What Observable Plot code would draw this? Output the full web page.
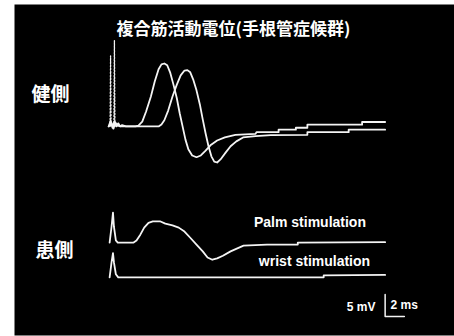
<!DOCTYPE html>
<html><head><meta charset="utf-8">
<script src="https://cdn.jsdelivr.net/npm/d3@7"></script>
<script src="https://cdn.jsdelivr.net/npm/@observablehq/plot@0.6"></script>
<style>body{margin:0;background:#fff;} #chart svg{display:block}</style>
</head><body><div id="chart"></div>
<script>
// ---- text ----
const title = "複合筋活動電位(手根管症候群)";
const sideLabels = ["健側", "患側"];
const traceLabels = ["Palm stimulation", "wrist stimulation"];
const scaleLabels = ["5 mV", "2 ms"];

// ---- baselines of each trace (mV) ----
const baselineHealthy = 43.2;
const baselinePalm = 16.8;
const baselineWrist = 8.9;

// ---- 健側: palm stimulation (time ms, amplitude mV relative to baseline) ----
const healthyPalmT = [-0.4,-0.2,0,0.2,0.4,0.6,0.8,1.0,1.4,2.4,2.7,3.1,3.5,4.0,4.4,4.8,5.1,5.4,5.7,6.0,6.35,6.7,7.0,7.3,7.6,7.9,8.3,8.75,9.2,9.7,10.2,10.9,11.7,12.8,14.9,15.0,17.3,17.3,19.1,19.1,20.3,20.3,26.0,26.0,28.4];
const healthyPalmV = [0,1.3,-0.3,1.1,0,0.7,0,0.3,0,0,0.2,1.1,3.4,6.8,10.2,13.0,14.1,14.3,13.9,12.3,9.5,6.4,3.0,0,-3.0,-5.2,-6.6,-7.0,-6.6,-5.5,-4.3,-3.2,-2.5,-1.9,-1.7,-1.3,-1.3,-0.75,-0.75,-0.3,-0.3,0.4,0.4,1.0,1.0];

// ---- 健側: wrist stimulation ----
const healthyWristT = [-0.4,-0.1,0.1,0.3,0.5,0.9,2.9,4.8,5.1,5.4,5.8,6.25,6.7,7.1,7.5,7.8,8.1,8.4,8.75,9.1,9.4,9.7,10.0,10.3,10.6,10.9,11.25,11.8,12.3,12.9,13.6,14.9,16.5,20.3,20.3,24.6,24.6,28.4];
const healthyWristV = [0,0.8,-0.5,0.9,0.2,0,0,0,0.45,1.4,3.6,6.8,9.5,11.6,12.7,12.8,12.3,10.7,8.2,5.0,1.6,-1.6,-4.5,-6.8,-8.0,-8.2,-7.5,-5.9,-4.5,-3.4,-2.5,-2.2,-2.0,-1.9,-1.3,-1.3,-0.75,-0.75];

// ---- 健側: stimulus artifact (dotted spikes) ----
const artifact1T = [0.15,0.2,0.25];
const artifact1V = [0,19.5,0];
const artifact2T = [-0.25,-0.2,-0.15];
const artifact2V = [0,16,0];

// ---- 患側: palm stimulation ----
const patientPalmT = [-0.3,-0.1,0.05,0.15,0.35,0.55,2.2,2.5,2.9,3.3,3.75,4.2,5.0,5.5,6.25,6.9,7.5,8.1,8.75,9.4,9.9,10.4,10.9,11.5,12.3,13.65,16.1,19.3,19.3,28.4];
const patientPalmV = [0,3.6,6.8,3.6,0.5,0,0,0.45,1.8,3.4,4.5,4.8,4.8,4.3,3.9,3.4,2.5,1.1,-0.45,-2.0,-3.4,-3.9,-3.6,-3.0,-2.0,-0.7,-0.45,-0.45,0,0.1];

// ---- 患側: wrist stimulation ----
const patientWristT = [-0.3,-0.1,0.05,0.15,0.35,0.6,22.0,22.0,28.4];
const patientWristV = [0,3.4,5.5,3.4,0.7,0,0,0.45,0.55];

// ---- scale bar ----
const scaleBarTime = [28.4, 30.4];   // 2 ms
const scaleBarVolt = [0, 5];         // 5 mV

function trace(name, T, V, base) {
  return T.map((t, i) => ({trace: name, t, v: V[i] + base}));
}
const solid = [
  ...trace("hp", healthyPalmT, healthyPalmV, baselineHealthy),
  ...trace("hw", healthyWristT, healthyWristV, baselineHealthy),
  ...trace("pp", patientPalmT, patientPalmV, baselinePalm),
  ...trace("pw", patientWristT, patientWristV, baselineWrist)
];
const dotted = [
  ...trace("a1", artifact1T, artifact1V, baselineHealthy),
  ...trace("a2", artifact2T, artifact2V, baselineHealthy)
];
const bar = [
  {t: scaleBarTime[0], v: scaleBarVolt[1]},
  {t: scaleBarTime[0], v: scaleBarVolt[0]},
  {t: scaleBarTime[1], v: scaleBarVolt[0]}
];

const white = "#f4f4f4";
const chart = Plot.plot({
  width: 454, height: 336,
  marginLeft: 14, marginTop: 4, marginRight: 0, marginBottom: 1,
  x: {domain: [0, 30], range: [112, 400], axis: null},
  y: {domain: [0, 50], range: [316, 96], axis: null},
  style: {background: "white"},
  marks: [
    Plot.frame({fill: "black", stroke: "none"}),
    Plot.line(solid, {x: "t", y: "v", z: "trace", stroke: white, strokeWidth: 1.8}),
    Plot.line(dotted, {x: "t", y: "v", z: "trace", stroke: white, strokeWidth: 1.3, strokeDasharray: "1.5,1.8"}),
    Plot.line(bar, {x: "t", y: "v", stroke: white, strokeWidth: 1.5}),
    Plot.text([title], {x: 12.6, y: 65.2, text: d => d, fill: "white", fontSize: 17, fontWeight: "bold", fontFamily: "Noto Sans CJK JP"}),
    Plot.text([sideLabels[0]], {x: -6.46, y: 50.45, text: d => d, fill: "white", fontSize: 19, fontWeight: "bold", fontFamily: "Noto Sans CJK JP"}),
    Plot.text([sideLabels[1]], {x: -6.04, y: 15.0, text: d => d, fill: "white", fontSize: 19, fontWeight: "bold", fontFamily: "Noto Sans CJK JP"}),
    Plot.text([traceLabels[0]], {x: 20.57, y: 21.4, text: d => d, fill: "white", fontSize: 14, fontWeight: "bold", fontFamily: "Liberation Sans"}),
    Plot.text([traceLabels[1]], {x: 21.04, y: 12.5, text: d => d, fill: "white", fontSize: 14, fontWeight: "bold", fontFamily: "Liberation Sans"}),
    Plot.text([scaleLabels[0]], {x: 27.4, y: 2.1, text: d => d, textAnchor: "end", fill: "white", fontSize: 12, fontWeight: "bold", fontFamily: "Liberation Sans"}),
    Plot.text([scaleLabels[1]], {x: 28.96, y: 2.5, text: d => d, textAnchor: "start", fill: "white", fontSize: 12, fontWeight: "bold", fontFamily: "Liberation Sans"})
  ]
});
document.getElementById("chart").appendChild(chart);
</script>
</body></html>
